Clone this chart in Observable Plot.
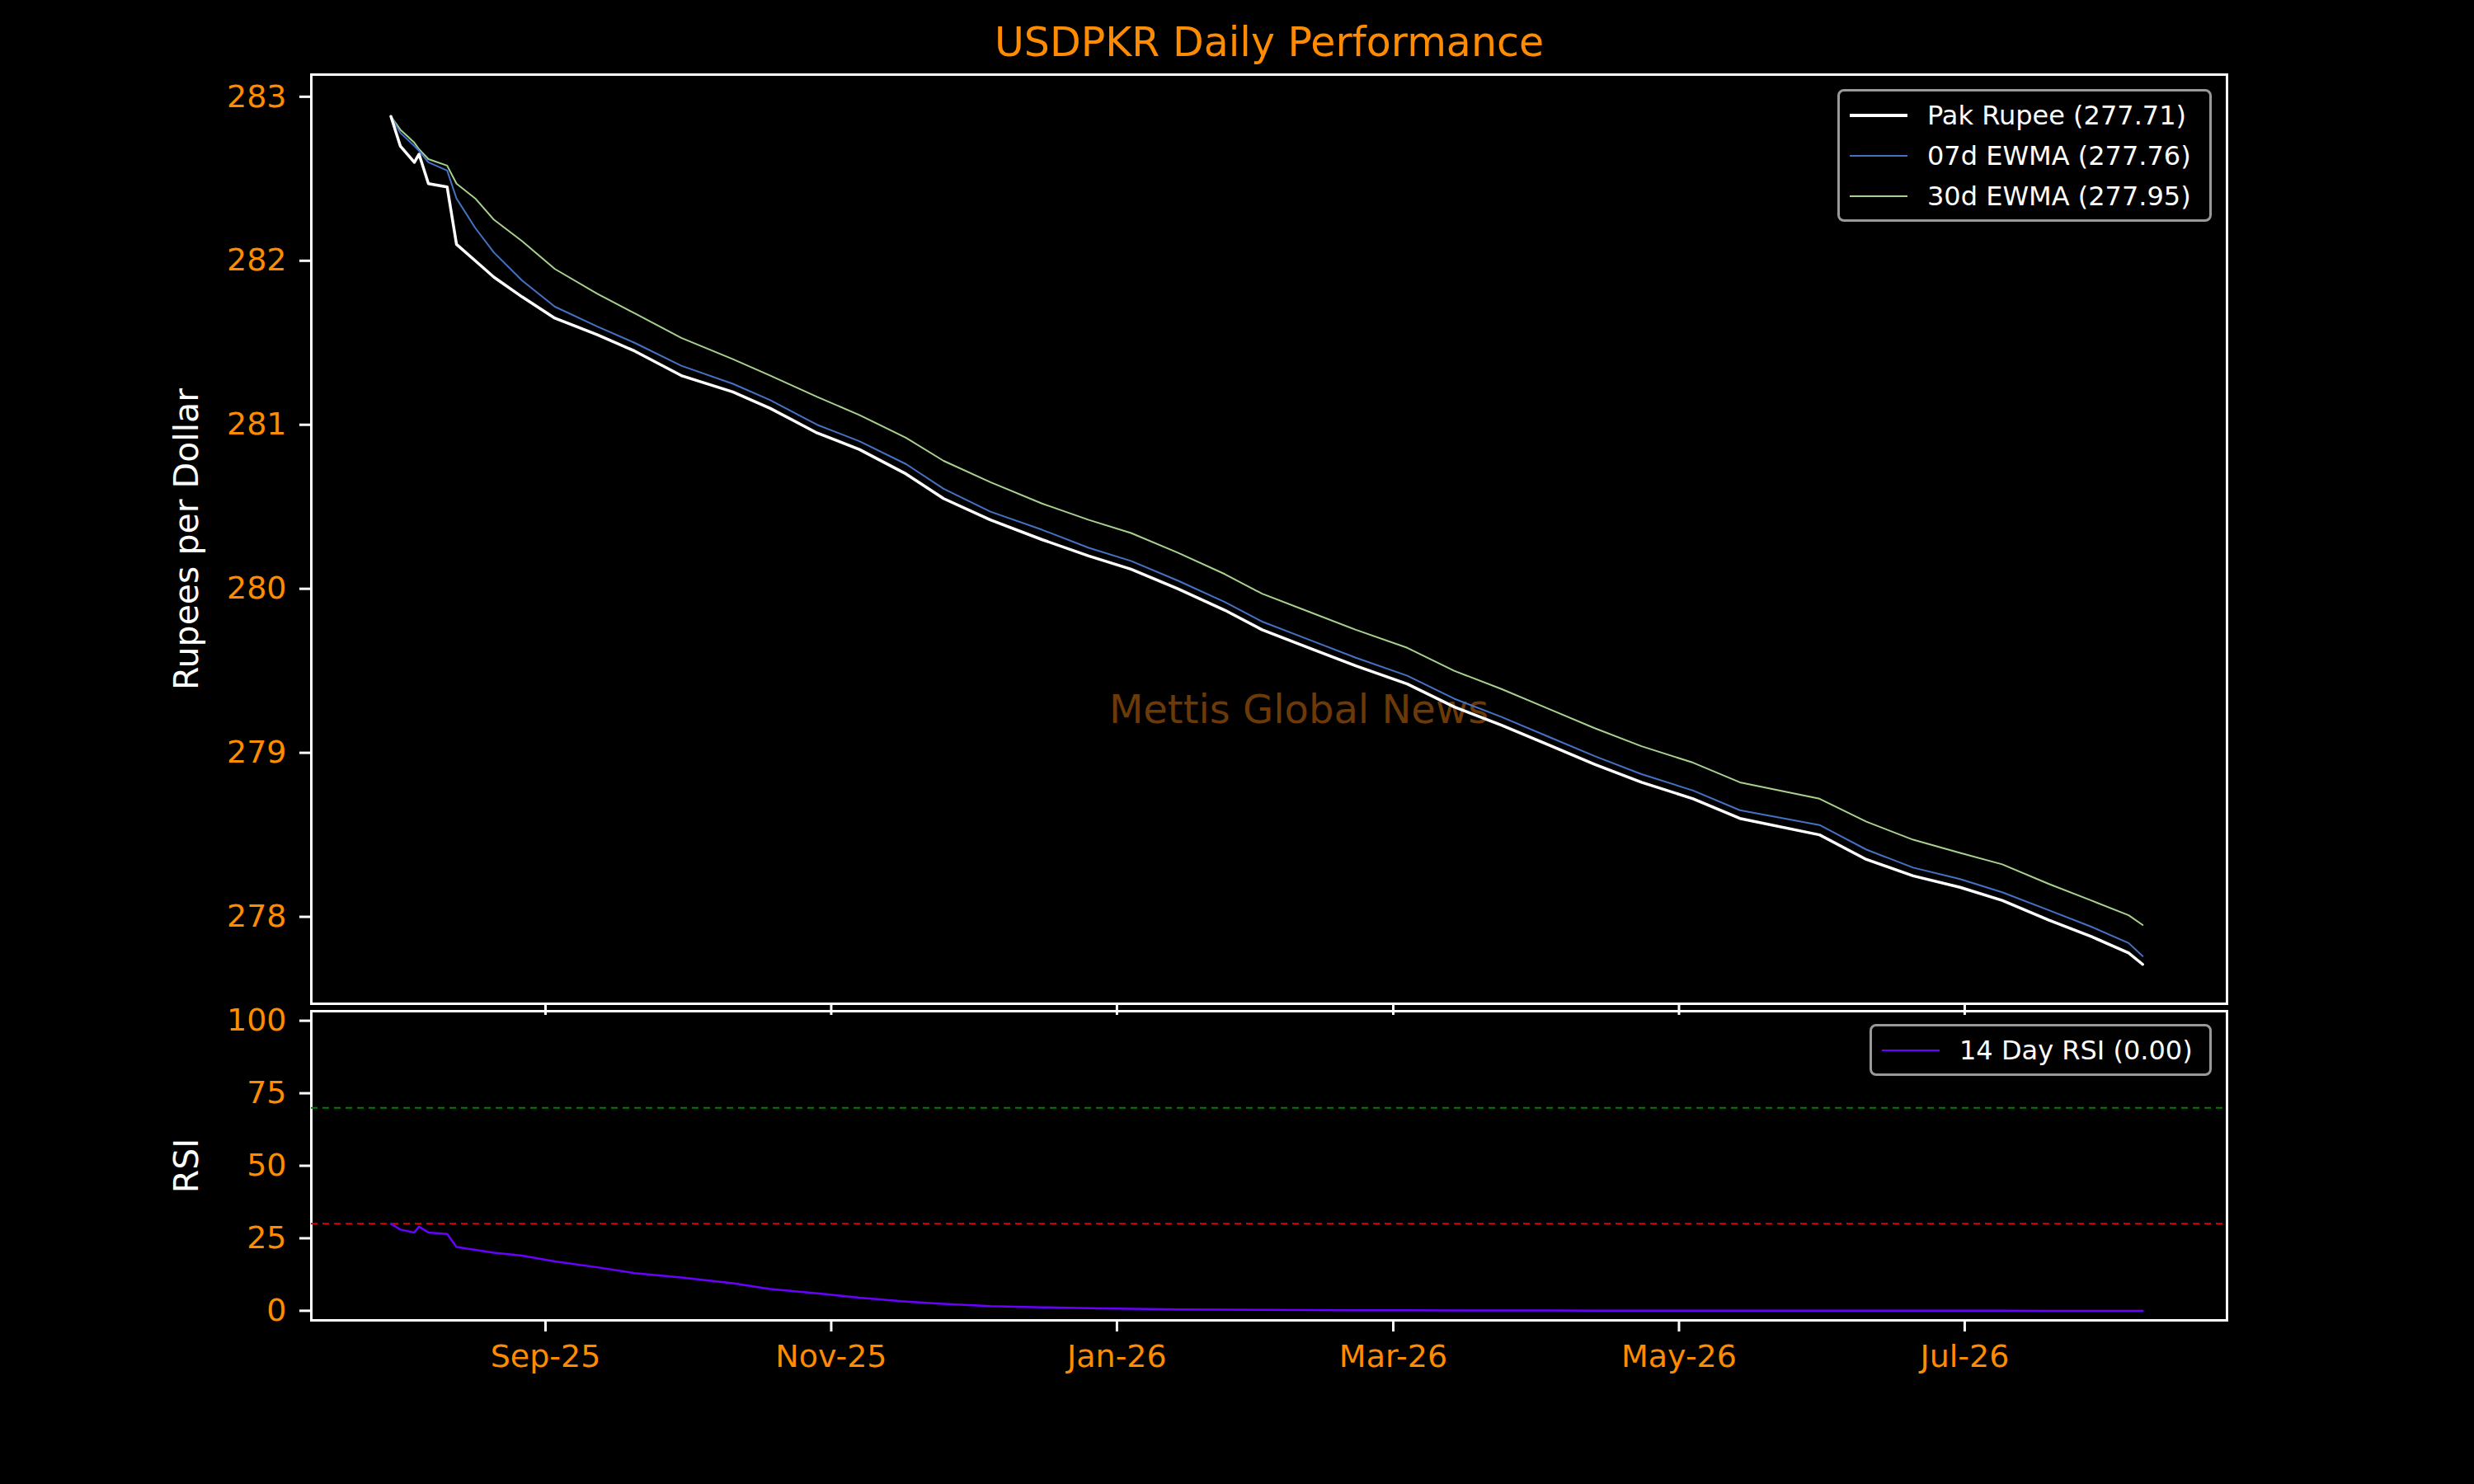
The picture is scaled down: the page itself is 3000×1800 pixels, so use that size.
<!DOCTYPE html>
<html><head><meta charset="utf-8">
<script src="https://cdn.jsdelivr.net/npm/d3@7"></script>
<script src="https://cdn.jsdelivr.net/npm/@observablehq/plot@0.6"></script>
<style>
body{margin:0;background:#000;font-family:"DejaVu Sans",sans-serif;}
#wrap{position:relative;width:3000px;height:1800px;background:#000;overflow:hidden;}
#wrap svg{display:block;overflow:visible;}
.leg{position:absolute;border:3px solid #999;border-radius:8px;background:#000;color:#fff;font-size:32px;padding:4px 8px 4px 12px;box-sizing:border-box;}
.leg div{display:flex;align-items:center;height:49px;white-space:nowrap;}
.leg span.sw{display:inline-block;width:70px;margin-right:24px;}
</style></head><body>
<div id="wrap"></div>
<script>
const dates = ["2025-07-30","2025-08-01","2025-08-04","2025-08-05","2025-08-07","2025-08-11","2025-08-13","2025-08-17","2025-08-21","2025-08-27","2025-09-03","2025-09-12","2025-09-20","2025-09-30","2025-10-11","2025-10-19","2025-10-29","2025-11-07","2025-11-17","2025-11-25","2025-12-05","2025-12-16","2025-12-26","2026-01-04","2026-01-14","2026-01-24","2026-02-01","2026-02-11","2026-02-21","2026-03-04","2026-03-14","2026-03-24","2026-04-03","2026-04-13","2026-04-23","2026-05-04","2026-05-14","2026-05-31","2026-06-10","2026-06-20","2026-06-30","2026-07-09","2026-07-19","2026-07-28","2026-08-05","2026-08-08"];
const pakRupee = [282.88,282.7,282.6,282.65,282.47,282.45,282.1,282.0,281.9,281.78,281.65,281.55,281.45,281.3,281.2,281.1,280.95,280.85,280.7,280.55,280.42,280.3,280.2,280.12,280.0,279.87,279.75,279.64,279.53,279.42,279.28,279.17,279.05,278.93,278.82,278.72,278.6,278.5,278.35,278.25,278.18,278.1,277.98,277.88,277.78,277.71];
const ewma07 = [282.88,282.78,282.7,282.67,282.6,282.55,282.38,282.2,282.05,281.88,281.72,281.6,281.5,281.36,281.25,281.15,281.0,280.9,280.76,280.61,280.47,280.36,280.25,280.17,280.05,279.92,279.8,279.69,279.58,279.47,279.33,279.22,279.1,278.98,278.87,278.77,278.65,278.56,278.41,278.3,278.23,278.15,278.04,277.94,277.84,277.76];
const ewma30 = [282.88,282.8,282.72,282.68,282.62,282.58,282.47,282.38,282.25,282.12,281.95,281.8,281.68,281.53,281.4,281.3,281.17,281.06,280.92,280.78,280.65,280.52,280.42,280.34,280.22,280.09,279.97,279.86,279.75,279.64,279.5,279.39,279.27,279.15,279.04,278.94,278.82,278.72,278.58,278.47,278.39,278.32,278.2,278.1,278.01,277.95];
const rsi = [30,28,27,29,27,26.5,22,21,20,19,17,15,13,11.5,9.5,7.5,6,4.5,3.2,2.4,1.6,1.2,0.9,0.7,0.5,0.4,0.3,0.25,0.2,0.15,0.12,0.1,0.08,0.06,0.05,0.04,0.03,0.02,0.02,0.01,0.01,0.01,0.0,0.0,0.0,0.0];
const xTicks = ["2025-09-01","2025-11-01","2026-01-01","2026-03-01","2026-05-01","2026-07-01"];

const parse = d3.utcParse("%Y-%m-%d");
const rows = dates.map((d,i)=>({date:parse(d),pak:pakRupee[i],e7:ewma07[i],e30:ewma30[i],rsi:rsi[i]}));
const xDomain = [parse("2025-07-13"), parse("2026-08-26")];
const tv = xTicks.map(parse);
const orange = "#ff8c00";
const fmt = d3.utcFormat("%b-%y");

const topPlot = Plot.plot({
  width:3000, height:1217, marginLeft:377, marginRight:300, marginTop:90, marginBottom:0,
  style:{background:"#000", fontSize:"38px", fontFamily:"DejaVu Sans"},
  x:{type:"utc", domain:xDomain},
  y:{domain:[277.47,283.135]},
  marks:[
    Plot.frame({stroke:"#fff", strokeWidth:3}),
    Plot.axisY({ticks:[278,279,280,281,282,283], tickFormat:d=>d, tickSize:14, stroke:"#fff", strokeWidth:3, fill:orange, tickPadding:16, label:null, fontSize:38}),
    Plot.axisX({ticks:tv, tickFormat:()=>"", tickSize:14, anchor:"bottom", stroke:"#fff", strokeWidth:3, label:null}),
    Plot.text(["Rupees per Dollar"], {frameAnchor:"left", textAnchor:"middle", dx:-151, rotate:-90, fill:"#fff", fontSize:41}),
    Plot.text(["USDPKR Daily Performance"], {frameAnchor:"top", dy:-57, fill:orange, fontSize:49}),
    Plot.text(["Mettis Global News"], {frameAnchor:"middle", dx:36, dy:208, fill:"#6b3a08", fontSize:48}),
    Plot.line(rows, {x:"date", y:"e30", stroke:"#a9d18e", strokeWidth:2}),
    Plot.line(rows, {x:"date", y:"e7", stroke:"#4472c4", strokeWidth:2}),
    Plot.line(rows, {x:"date", y:"pak", stroke:"#fff", strokeWidth:3.5})
  ]
});

const botPlot = Plot.plot({
  width:3000, height:600, marginLeft:377, marginRight:300, marginTop:26, marginBottom:199,
  style:{background:"transparent", fontSize:"38px", fontFamily:"DejaVu Sans"},
  x:{type:"utc", domain:xDomain},
  y:{domain:[-3.3,103.3]},
  marks:[
    Plot.frame({stroke:"#fff", strokeWidth:3}),
    Plot.ruleY([70], {stroke:"#008000", strokeWidth:2, strokeDasharray:"8,6"}),
    Plot.ruleY([30], {stroke:"#e00000", strokeWidth:2, strokeDasharray:"8,6"}),
    Plot.axisY({ticks:[0,25,50,75,100], tickSize:14, stroke:"#fff", strokeWidth:3, fill:orange, tickPadding:16, label:null, fontSize:38}),
    Plot.axisX({ticks:tv, tickFormat:fmt, tickSize:14, stroke:"#fff", strokeWidth:3, fill:orange, tickPadding:16, label:null, fontSize:38}),
    Plot.text(["RSI"], {frameAnchor:"left", textAnchor:"middle", dx:-151, rotate:-90, fill:"#fff", fontSize:41}),
    Plot.line(rows, {x:"date", y:"rsi", stroke:"#6a00ff", strokeWidth:2.5})
  ]
});
botPlot.style.marginTop = "-17px";

const wrap = document.getElementById("wrap");
wrap.appendChild(topPlot);
wrap.appendChild(botPlot);

const leg1 = document.createElement("div");
leg1.className="leg";
leg1.style.cssText="left:2228px;top:108px;width:454px;";
leg1.innerHTML = `
<div><span class="sw" style="border-top:4px solid #fff"></span>Pak Rupee (${pakRupee[pakRupee.length-1].toFixed(2)})</div>
<div><span class="sw" style="border-top:2px solid #4472c4"></span>07d EWMA (${ewma07[ewma07.length-1].toFixed(2)})</div>
<div><span class="sw" style="border-top:2px solid #a9d18e"></span>30d EWMA (${ewma30[ewma30.length-1].toFixed(2)})</div>`;
wrap.appendChild(leg1);
const leg2 = document.createElement("div");
leg2.className="leg";
leg2.style.cssText="left:2267px;top:1242px;width:415px;";
leg2.innerHTML = `<div><span class="sw" style="border-top:2.5px solid #6a00ff"></span>14 Day RSI (${rsi[rsi.length-1].toFixed(2)})</div>`;
wrap.appendChild(leg2);
</script>
</body></html>
